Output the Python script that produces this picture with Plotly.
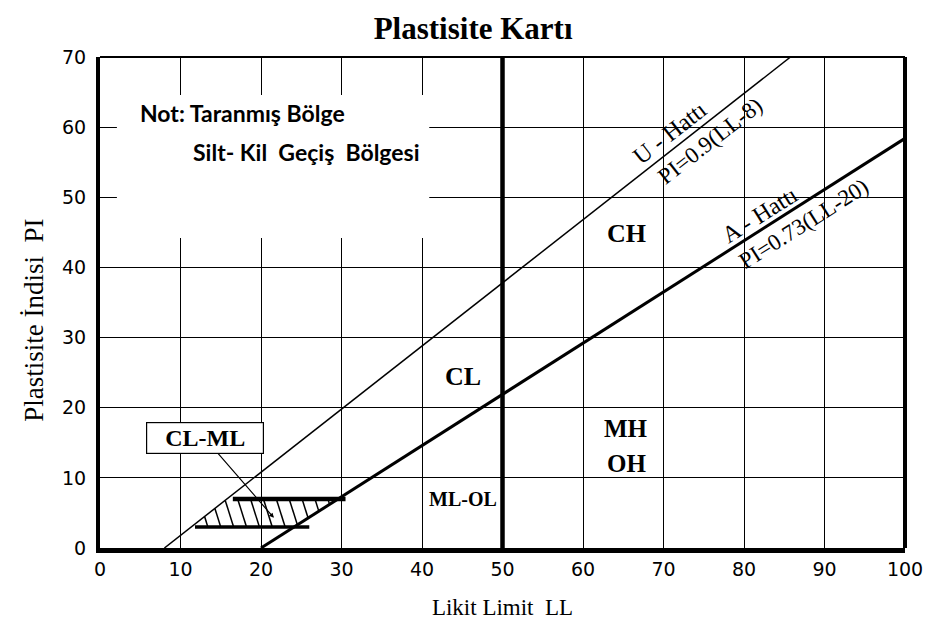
import math
import plotly.graph_objects as go

# Axis ticks
ll_ticks = [0, 10, 20, 30, 40, 50, 60, 70, 80, 90, 100]
pi_ticks = [0, 10, 20, 30, 40, 50, 60, 70]

# U-line  PI = 0.9(LL-8)   and   A-line  PI = 0.73(LL-20)
u_slope, u_origin = 0.9, 8
a_slope, a_origin = 0.73, 20
ll_boundary = 50

# CL-ML (silt-clay transition) band limits
band_pi_top = 7
band_pi_bottom = 3
band_top_ll = [16.5, 30.5]
band_bottom_ll = [11.8, 26]
hatch_start_ll = [12.3, 13.9, 15.5, 17.1, 18.7, 20.3, 21.9, 23.5, 25.1, 26.7, 28.3]

# Zone labels: text, LL, PI, font size
zone_labels = [
    ("CH", 65.4, 44.8, 26),
    ("CL", 45.1, 24.5, 26),
    ("MH", 65.4, 17.1, 25),
    ("OH", 65.4, 12.1, 25),
    ("ML-OL", 45.1, 7.0, 20),
]

PI_MAX = 70


def u_line(ll):
    return u_slope * (ll - u_origin)


def a_line(ll):
    return a_slope * (ll - a_origin)


fig = go.Figure()

# U-line, clipped at the top of the chart
u_end = u_origin + PI_MAX / u_slope
fig.add_trace(go.Scatter(x=[u_origin, u_end], y=[u_line(u_origin), u_line(u_end)],
                         mode="lines", line=dict(color="black", width=1.5),
                         hoverinfo="skip"))
# A-line
fig.add_trace(go.Scatter(x=[a_origin, 100], y=[a_line(a_origin), a_line(100)],
                         mode="lines", line=dict(color="black", width=3),
                         hoverinfo="skip"))
# LL = 50 boundary
fig.add_trace(go.Scatter(x=[ll_boundary, ll_boundary], y=[0, PI_MAX],
                         mode="lines", line=dict(color="black", width=4.5),
                         hoverinfo="skip"))

# Hatching of the CL-ML band: steep strokes clipped between U- and A-lines
hx, hy = [], []
drop = 1.1  # LL shift of a stroke across the band height
for x0 in hatch_start_ll:
    x1 = x0 + drop
    steps = 200
    pts = []
    for i in range(steps + 1):
        t = i / steps
        x = x0 + (x1 - x0) * t
        y = band_pi_top + (band_pi_bottom - band_pi_top) * t
        if a_line(x) <= y <= u_line(x):
            pts.append((x, y))
    if len(pts) >= 2:
        hx += [pts[0][0], pts[-1][0], None]
        hy += [pts[0][1], pts[-1][1], None]
fig.add_trace(go.Scatter(x=hx, y=hy, mode="lines",
                         line=dict(color="black", width=1.5), hoverinfo="skip"))

# Band limit bars
fig.add_trace(go.Scatter(x=band_top_ll, y=[band_pi_top] * 2, mode="lines",
                         line=dict(color="black", width=4.5), hoverinfo="skip"))
fig.add_trace(go.Scatter(x=band_bottom_ll, y=[band_pi_bottom] * 2, mode="lines",
                         line=dict(color="black", width=3.5), hoverinfo="skip"))

serif = "Liberation Serif, Times New Roman, serif"
annotations = []
for text, x, y, size in zone_labels:
    annotations.append(dict(x=x, y=y, text=f"<b>{text}</b>", showarrow=False,
                            font=dict(family=serif, size=size, color="black")))

# CL-ML callout with leader line
annotations.append(dict(x=21.6, y=4.3, ax=13, ay=15.7, axref="x", ayref="y",
                        text="<b>CL-ML</b>", showarrow=True, arrowhead=2,
                        arrowsize=0.8, arrowwidth=1.2, arrowcolor="black",
                        bgcolor="white", bordercolor="black", borderwidth=1.2,
                        borderpad=2, width=112,
                        font=dict(family=serif, size=24, color="black")))

# Line labels, rotated along their lines and offset perpendicular in pixels
px_x = 811 / 100.0
px_y = 491 / 70.0


def line_label(text, ll, slope, origin, offset, size):
    ang = math.atan(slope * px_y / px_x)
    return dict(x=ll, y=slope * (ll - origin), text=text, showarrow=False,
                textangle=-math.degrees(ang),
                xshift=-offset * math.sin(ang), yshift=offset * math.cos(ang),
                font=dict(family=serif, size=size, color="black"))


annotations.append(line_label("U - Hattı", 71.9, u_slope, u_origin, 15, 24))
annotations.append(line_label("PI=0.9(LL-8)", 74.6, u_slope, u_origin, -17, 23))
annotations.append(line_label("A - Hattı", 82.8, a_slope, a_origin, 13, 24))
annotations.append(line_label("PI=0.73(LL-20)", 86.3, a_slope, a_origin, -18, 23))

# Note inside the white panel
note_font = dict(family="Lato, Carlito, sans-serif", size=23, color="black")
annotations.append(dict(x=4.7, y=62.0, xanchor="left", text="<b>Not: Taranmış Bölge</b>",
                        showarrow=False, font=note_font))
annotations.append(dict(x=11.3, y=56.5, xanchor="left",
                        text="<b>Silt- Kil\u00a0\u00a0Geçiş\u00a0\u00a0Bölgesi</b>",
                        showarrow=False, font=note_font))

# Y-axis title
annotations.append(dict(xref="paper", yref="paper", x=-0.082, y=0.465,
                        xanchor="center", yanchor="middle",
                        text="Plastisite İndisi\u00a0\u00a0PI", textangle=-90,
                        showarrow=False,
                        font=dict(family=serif, size=27, color="black")))

shapes = [
    # white panel hiding the grid behind the note
    dict(type="rect", xref="x", yref="y", x0=2.1, x1=40.9, y0=44.2, y1=64.6,
         fillcolor="white", line=dict(width=0), layer="above"),
    # top and right frame
    dict(type="line", xref="paper", yref="paper", x0=0, x1=1, y0=1, y1=1,
         line=dict(color="black", width=2), layer="above"),
    dict(type="line", xref="paper", yref="paper", x0=1, x1=1, y0=0, y1=1,
         line=dict(color="black", width=4), layer="above"),
]

tick_font = dict(family="DejaVu Sans, Verdana, sans-serif", size=19, color="black")

fig.update_layout(
    width=935, height=632,
    margin=dict(l=100, r=24, t=57, b=84),
    paper_bgcolor="white", plot_bgcolor="white",
    showlegend=False,
    title=dict(text="<b>Plastisite Kartı</b>", x=0.506, xref="container", xanchor="center",
               y=0.955, yref="container", yanchor="middle",
               font=dict(family=serif, size=31, color="black")),
    xaxis=dict(range=[0, 100], tickvals=ll_ticks, ticktext=[str(v) for v in ll_ticks],
               showgrid=True, gridcolor="black", gridwidth=1.2, zeroline=False,
               showline=True, linecolor="black", linewidth=5,
               ticks="", ticklabelstandoff=0, tickfont=tick_font,
               title=dict(text="Likit Limit\u00a0\u00a0LL", standoff=22,
                          font=dict(family=serif, size=23, color="black"))),
    yaxis=dict(range=[0, 70], tickvals=pi_ticks, ticktext=[str(v) for v in pi_ticks],
               showgrid=True, gridcolor="black", gridwidth=1.2, zeroline=False,
               showline=True, linecolor="black", linewidth=4,
               ticks="", ticklabelstandoff=6, tickfont=tick_font),
    annotations=annotations,
    shapes=shapes,
)

fig.write_html("out.html")
